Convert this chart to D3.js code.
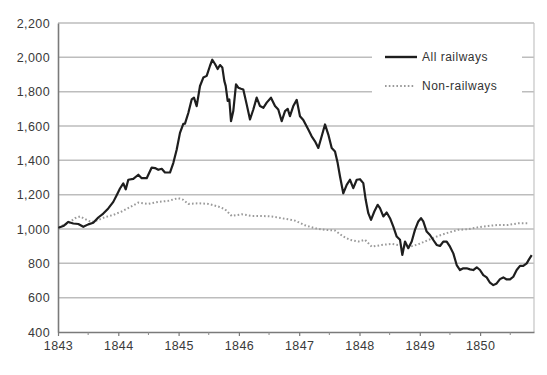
<!DOCTYPE html>
<html lang="en">
<head>
    <meta charset="UTF-8">
    <title>Railway and non-railway share prices, 1843-1850</title>
    <script src="https://d3js.org/d3.v7.min.js"></script>
    <style>
        body {
            margin: 0;
            background: #fff;
            font-family: "Liberation Sans", Arial, sans-serif;
        }
        .tick-label {
            font-size: 12.5px;
            fill: #3a3a3a;
            letter-spacing: 0.4px;
        }
        .legend-label {
            font-size: 12px;
            fill: #333;
            letter-spacing: 0.5px;
        }
    </style>
</head>
<body>
    <div id="chart"></div>
    <script>
        // All railways index (dates as decimal years)
        const railDates = [
            1843.005, 1843.088, 1843.171, 1843.254, 1843.337, 1843.420, 1843.502, 1843.585,
            1843.668, 1843.751, 1843.834, 1843.917, 1843.973, 1844.028, 1844.083, 1844.123,
            1844.166, 1844.249, 1844.332, 1844.388, 1844.471, 1844.554, 1844.609, 1844.663,
            1844.720, 1844.774, 1844.857, 1844.912, 1844.968, 1845.023, 1845.078, 1845.106,
            1845.161, 1845.217, 1845.255, 1845.300, 1845.355, 1845.410, 1845.466, 1845.521,
            1845.559, 1845.604, 1845.648, 1845.687, 1845.725, 1845.758, 1845.781, 1845.814,
            1845.841, 1845.869, 1845.907, 1845.952, 1845.990, 1846.035, 1846.073, 1846.129,
            1846.184, 1846.239, 1846.295, 1846.350, 1846.405, 1846.461, 1846.532, 1846.599,
            1846.653, 1846.710, 1846.765, 1846.809, 1846.847, 1846.902, 1846.959, 1847.013,
            1847.068, 1847.151, 1847.207, 1847.262, 1847.317, 1847.373, 1847.428, 1847.483,
            1847.539, 1847.594, 1847.638, 1847.677, 1847.731, 1847.788, 1847.842, 1847.897,
            1847.954, 1848.008, 1848.063, 1848.103, 1848.146, 1848.191, 1848.246, 1848.302,
            1848.340, 1848.395, 1848.451, 1848.506, 1848.561, 1848.617, 1848.672, 1848.710,
            1848.755, 1848.809, 1848.866, 1848.920, 1848.975, 1849.020, 1849.058, 1849.114,
            1849.169, 1849.224, 1849.280, 1849.335, 1849.390, 1849.446, 1849.501, 1849.556,
            1849.612, 1849.667, 1849.721, 1849.778, 1849.833, 1849.887, 1849.944, 1849.998,
            1850.053, 1850.109, 1850.164, 1850.219, 1850.275, 1850.330, 1850.385, 1850.441,
            1850.496, 1850.551, 1850.607, 1850.662, 1850.716, 1850.773, 1850.811, 1850.856
        ];
        const railValues = [
            1007, 1017, 1041, 1032, 1029, 1013, 1027, 1036,
            1067, 1090, 1120, 1158, 1197, 1236, 1266, 1231,
            1287, 1292, 1316, 1296, 1296, 1358, 1355, 1345,
            1351, 1329, 1329, 1384, 1462, 1560, 1612, 1614,
            1676, 1755, 1765, 1716, 1833, 1882, 1892, 1951,
            1986, 1961, 1932, 1955, 1941, 1863, 1834, 1746,
            1755, 1628, 1687, 1843, 1823, 1817, 1813, 1726,
            1638, 1696, 1765, 1716, 1706, 1736, 1765, 1716,
            1696, 1628, 1687, 1700, 1657, 1716, 1752, 1657,
            1635, 1579, 1540, 1511, 1472, 1540, 1609, 1550,
            1472, 1452, 1384, 1306, 1208, 1257, 1287, 1238,
            1287, 1290, 1267, 1170, 1092, 1053, 1102, 1141,
            1122, 1073, 1096, 1063, 1014, 956, 937, 849,
            927, 888, 927, 995, 1044, 1063, 1044, 985,
            965, 936, 907, 901, 927, 927, 897, 858,
            790, 761, 771, 771, 765, 761, 777, 761,
            731, 718, 687, 673, 683, 708, 718, 706,
            706, 722, 761, 785, 785, 800, 823, 848
        ];

        // Non-railways index
        const nonRailDates = [
            1843.005, 1843.171, 1843.282, 1843.365, 1843.476, 1843.559, 1843.668, 1843.779,
            1843.917, 1844.056, 1844.194, 1844.332, 1844.498, 1844.663, 1844.829, 1844.995,
            1845.078, 1845.161, 1845.327, 1845.493, 1845.658, 1845.769, 1845.881, 1846.046,
            1846.212, 1846.378, 1846.544, 1846.710, 1846.876, 1846.930, 1847.096, 1847.262,
            1847.428, 1847.594, 1847.731, 1847.842, 1847.980, 1848.091, 1848.202, 1848.368,
            1848.534, 1848.643, 1848.809, 1848.975, 1849.141, 1849.307, 1849.473, 1849.638,
            1849.804, 1849.970, 1850.136, 1850.302, 1850.468, 1850.633, 1850.799
        ];
        const nonRailValues = [
            1010, 1033, 1063, 1073, 1053, 1040, 1053, 1069,
            1082, 1102, 1127, 1154, 1146, 1158, 1164, 1180,
            1170, 1146, 1150, 1146, 1131, 1115, 1076, 1086,
            1076, 1076, 1073, 1063, 1053, 1049, 1022, 1004,
            995, 991, 956, 937, 927, 937, 897, 907,
            913, 907, 894, 911, 936, 960, 979, 995,
            999, 1010, 1018, 1024, 1024, 1033, 1033
        ];

        const yTicks = [400, 600, 800, 1000, 1200, 1400, 1600, 1800, 2000, 2200];
        const yearTicks = [1843, 1844, 1845, 1846, 1847, 1848, 1849, 1850];
        const halfYearTicks = [1843.5, 1844.5, 1845.5, 1846.5, 1847.5, 1848.5, 1849.5, 1850.5];
        const seriesNames = ['All railways', 'Non-railways'];

        const width = 547;
        const height = 375;
        const margin = { top: 23, right: 13, bottom: 43, left: 58 };

        const svg = d3.select('#chart')
            .append('svg')
            .attr('width', width)
            .attr('height', height);

        const x = d3.scaleLinear()
            .domain([1843, 1850.894])
            .range([margin.left, width - margin.right]);

        const y = d3.scaleLinear()
            .domain([400, 2200])
            .range([height - margin.bottom, margin.top]);

        // gridlines
        svg.append('g')
            .selectAll('line')
            .data(yTicks.slice(1))
            .join('line')
            .attr('x1', margin.left)
            .attr('x2', width - margin.right)
            .attr('y1', d => y(d))
            .attr('y2', d => y(d))
            .attr('stroke', '#bdbdbd')
            .attr('stroke-width', 1.5);

        // right frame
        svg.append('line')
            .attr('x1', width - margin.right)
            .attr('x2', width - margin.right)
            .attr('y1', y(2200))
            .attr('y2', y(400))
            .attr('stroke', '#c4c4c4')
            .attr('stroke-width', 1.2);

        // y axis
        const yAxis = svg.append('g')
            .attr('transform', `translate(${margin.left},0)`)
            .call(d3.axisLeft(y).tickValues(yTicks).tickFormat(d3.format(',')).tickSize(0).tickPadding(8));
        yAxis.select('.domain').attr('stroke', '#7a7a7a').attr('stroke-width', 1.6);
        yAxis.selectAll('text').attr('class', 'tick-label').attr('font-family', null).attr('font-size', null);

        // x axis
        const xAxis = svg.append('g')
            .attr('transform', `translate(0,${y(400)})`)
            .call(d3.axisBottom(x).tickValues(yearTicks).tickFormat(d3.format('d')).tickSizeInner(4).tickSizeOuter(0).tickPadding(5));
        xAxis.select('.domain').attr('stroke', '#7a7a7a').attr('stroke-width', 1.6);
        xAxis.selectAll('.tick line').attr('stroke', '#7a7a7a').attr('stroke-width', 1.2);
        xAxis.selectAll('text').attr('class', 'tick-label').attr('font-family', null).attr('font-size', null);

        svg.append('g')
            .attr('transform', `translate(0,${y(400)})`)
            .selectAll('line')
            .data(halfYearTicks)
            .join('line')
            .attr('x1', d => x(d))
            .attr('x2', d => x(d))
            .attr('y1', 0)
            .attr('y2', 3)
            .attr('stroke', '#8a8a8a')
            .attr('stroke-width', 1);

        const line = d3.line()
            .x(d => x(d[0]))
            .y(d => y(d[1]))
            .curve(d3.curveLinear);

        const railData = d3.zip(railDates, railValues);
        const nonRailData = d3.zip(nonRailDates, nonRailValues);

        svg.append('path')
            .datum(nonRailData)
            .attr('fill', 'none')
            .attr('stroke', '#9a9a9a')
            .attr('stroke-width', 2)
            .attr('stroke-dasharray', '1.6,2.2')
            .attr('d', line);

        svg.append('path')
            .datum(railData)
            .attr('fill', 'none')
            .attr('stroke', '#1e1e1e')
            .attr('stroke-width', 2.2)
            .attr('stroke-linejoin', 'round')
            .attr('d', line);

        // legend
        const legend = svg.append('g');
        legend.append('rect')
            .attr('x', 372)
            .attr('y', 42)
            .attr('width', 150)
            .attr('height', 62)
            .attr('fill', '#fff');

        const legendRows = legend.selectAll('g')
            .data(seriesNames)
            .join('g')
            .attr('transform', (d, i) => `translate(385,${57 + i * 29})`);

        legendRows.append('line')
            .attr('x1', 0)
            .attr('x2', (d, i) => i === 0 ? 32 : 30)
            .attr('stroke', (d, i) => i === 0 ? '#1e1e1e' : '#9a9a9a')
            .attr('stroke-width', (d, i) => i === 0 ? 2.4 : 2)
            .attr('stroke-dasharray', (d, i) => i === 0 ? null : '1.6,2.2');

        legendRows.append('text')
            .attr('class', 'legend-label')
            .attr('x', 37)
            .attr('y', 4.3)
            .text(d => d);
    </script>
</body>
</html>
